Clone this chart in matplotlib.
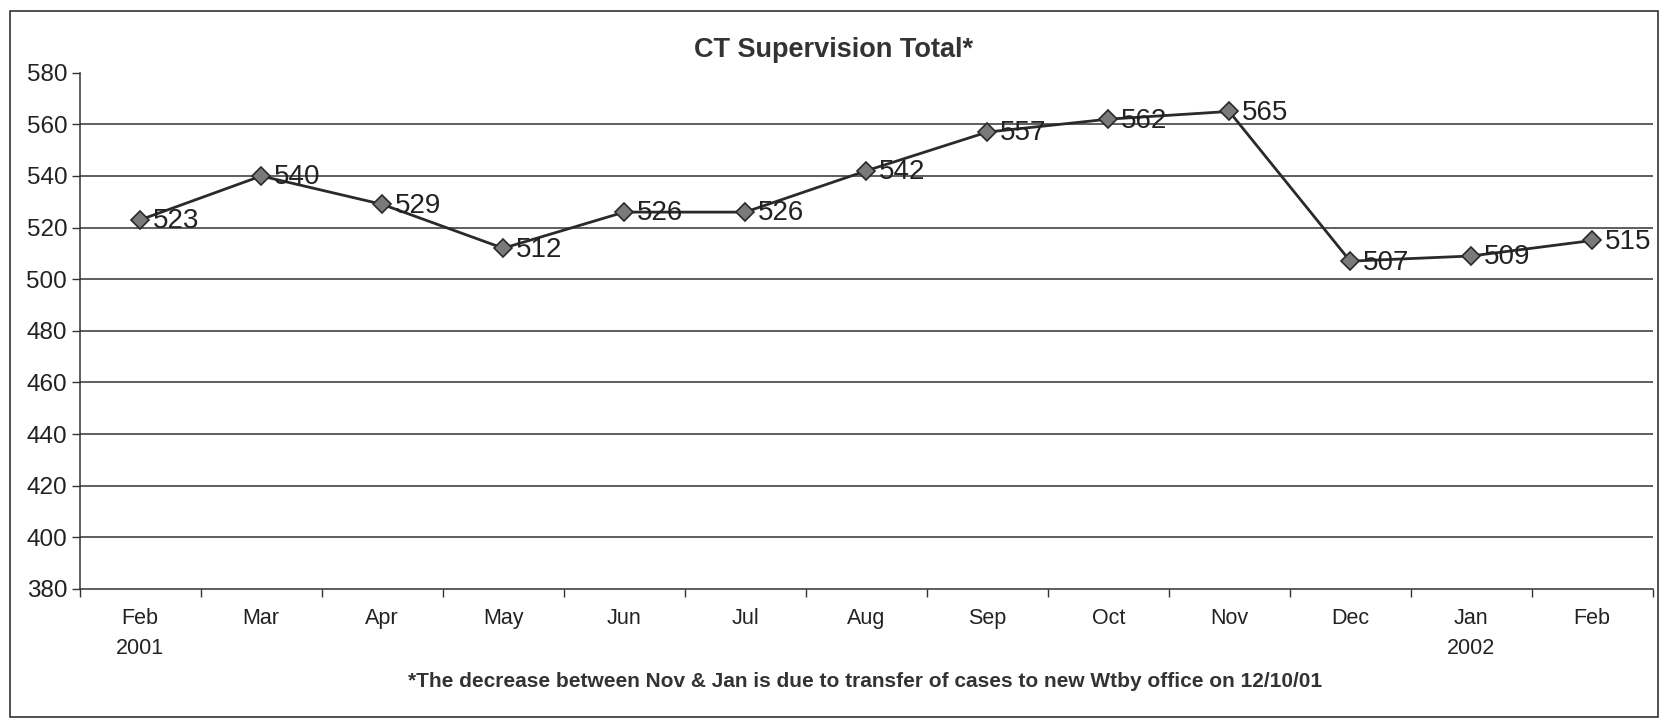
import matplotlib
matplotlib.use("Agg")
import matplotlib.pyplot as plt
from matplotlib.patches import Rectangle

plt.rcParams['font.family'] = ['Liberation Sans', 'DejaVu Sans']

months = ["Feb\n2001", "Mar", "Apr", "May", "Jun", "Jul", "Aug", "Sep", "Oct", "Nov", "Dec", "Jan\n2002", "Feb"]
totals = [523, 540, 529, 512, 526, 526, 542, 557, 562, 565, 507, 509, 515]
yticks = [380, 400, 420, 440, 460, 480, 500, 520, 540, 560, 580]
title = "CT Supervision Total*"
footnote = "*The decrease between Nov & Jan is due to transfer of cases to new Wtby office on 12/10/01"

fig = plt.figure(figsize=(16.61, 7.2), dpi=100)
ax = fig.add_axes([0.048, 0.182, 0.947, 0.717])

x = list(range(len(totals)))
ax.plot(x, totals, color="#2a2a2a", linewidth=2.0, marker="D", markersize=9,
        markerfacecolor="#7a7a7a", markeredgecolor="#2a2a2a", markeredgewidth=1.2, zorder=3)
for xi, v in zip(x, totals):
    ax.annotate(str(v), (xi, v), xytext=(9, -1), textcoords="offset points",
                ha="left", va="center", fontsize=20, color="#222222", zorder=4)

ax.set_xlim(-0.5, len(totals) - 0.5)
ax.set_ylim(yticks[0], yticks[-1])
ax.set_yticks(yticks)
ax.set_yticklabels([str(t) for t in yticks], fontsize=17.5, color="#222222")
ax.set_xticks(x)
ax.set_xticklabels(months, fontsize=15.5, color="#222222", linespacing=1.55)
ax.set_xticks([i - 0.5 for i in range(len(totals) + 1)], minor=True)
ax.tick_params(axis="x", which="major", length=0, pad=14)
ax.tick_params(axis="x", which="minor", length=6, width=1, color="#333333", direction="out")
ax.tick_params(axis="y", which="major", length=6, width=1, color="#333333", direction="out", pad=3)

for t in yticks[1:-1]:
    ax.axhline(t, color="#333333", linewidth=1.1, zorder=1)

for side in ["top", "right"]:
    ax.spines[side].set_visible(False)
for side in ["left", "bottom"]:
    ax.spines[side].set_color("#333333")
    ax.spines[side].set_linewidth(1.1)

fig.text(0.502, 0.931, title, ha="center", va="center", fontsize=19.5, fontweight="bold", color="#333333")
fig.text(0.521, 0.054, footnote, ha="center", va="center", fontsize=15, fontweight="bold", color="#333333")

fig.add_artist(Rectangle((0.006, 0.004), 0.992, 0.981, transform=fig.transFigure,
                         fill=False, edgecolor="#333333", linewidth=1.2))

fig.savefig("out.png", dpi=100, facecolor="white")
